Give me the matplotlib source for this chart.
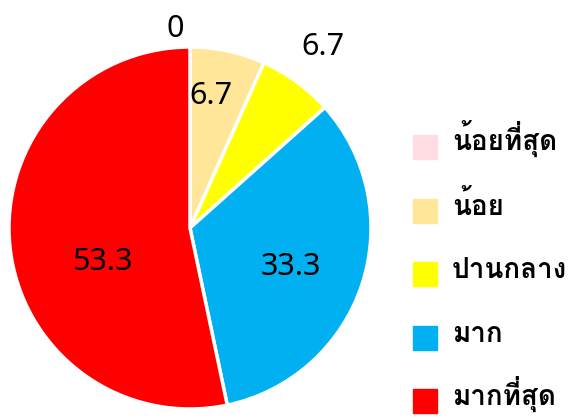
import matplotlib
matplotlib.use("Agg")
import matplotlib.pyplot as plt
import numpy as np

plt.rcParams['font.family'] = ['Noto Sans Thai Looped', 'DejaVu Sans']

categories = ["น้อยที่สุด", "น้อย", "ปานกลาง", "มาก", "มากที่สุด"]
values = [0, 6.7, 6.7, 33.3, 53.3]
value_labels = ["0", "6.7", "6.7", "33.3", "53.3"]
colors = ["#FFDDE3", "#FFE699", "#FFFF00", "#00B0F0", "#FF0000"]

# label placement (distance from center in radii, angle offset in degrees)
label_dist = [1.10, 0.74, 1.24, 0.60, 0.52]
label_dang = [0, 3, 0, -3, 15.5]
label_dx = [-0.08, 0, 0, 0, 0]

W, H = 581, 418
fig = plt.figure(figsize=(W / 100, H / 100), dpi=100)
cx, cy, r = 190, 228, 181
ax = fig.add_axes([(cx - r) / W, (H - cy - r) / H, 2 * r / W, 2 * r / H])

wedges, _ = ax.pie(values, colors=colors, startangle=90, counterclock=False,
                   radius=1, wedgeprops=dict(edgecolor="white", linewidth=2.5))
ax.set_xlim(-1, 1)
ax.set_ylim(-1, 1)
ax.set_aspect("equal")
ax.axis("off")

for w, lab, d, da, dx in zip(wedges, value_labels, label_dist, label_dang, label_dx):
    ang = np.deg2rad((w.theta1 + w.theta2) / 2 + da)
    ax.text(d * np.cos(ang) + dx, d * np.sin(ang), lab, ha="center", va="center",
            fontsize=22, color="black", clip_on=False)

# legend (manual layout, pixel positions)
leg_x, leg_y0, leg_dy, sq = 413, 147, 63.5, 24
for i, (cat, col) in enumerate(zip(categories, colors)):
    yc = leg_y0 + i * leg_dy
    fig.patches.append(plt.Rectangle((leg_x / W, 1 - (yc + sq / 2) / H), sq / W, sq / H,
                                     transform=fig.transFigure, color=col))
    fig.text(452 / W, 1 - (yc + 4) / H, cat, ha="left", va="baseline",
             family=['Loma', 'DejaVu Sans'], weight='bold',
             fontsize=20, color="black")

fig.savefig("out.png", dpi=100)
